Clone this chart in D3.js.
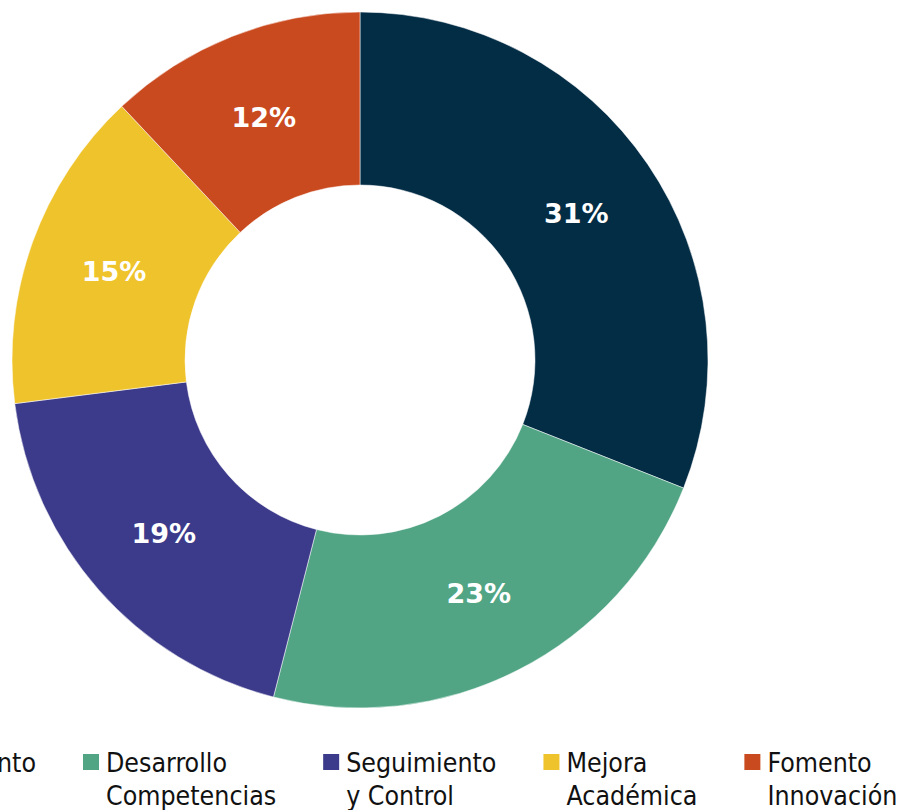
<!DOCTYPE html>
<html>
<head>
<meta charset="utf-8">
<script src="https://cdn.jsdelivr.net/npm/d3@7"></script>
<style>
  body { margin: 0; background: #fff; }
  svg { display: block; }
</style>
</head>
<body>
<div id="chart"></div>
<script>
// data
const categories = ['Fortalecimiento', 'Desarrollo Competencias', 'Seguimiento y Control', 'Mejora Académica', 'Fomento Innovación'];
const legendLines = [['Fortalecimiento'], ['Desarrollo', 'Competencias'], ['Seguimiento', 'y Control'], ['Mejora', 'Académica'], ['Fomento', 'Innovación']];
const values = [31, 23, 19, 15, 12];
const colors = ['#032c45', '#51a585', '#3c3a8a', '#efc32b', '#ca4a1f'];

const width = 907;
const height = 810;
const cx = 360, cy = 360;
const outerR = 348, innerR = 175;

const svg = d3.select('#chart').append('svg')
    .attr('width', width)
    .attr('height', height);

const color = d3.scaleOrdinal().domain(categories).range(colors);

const pie = d3.pie().sort(null).value(d => d.value);
const arc = d3.arc().innerRadius(innerR).outerRadius(outerR);

const data = categories.map((c, i) => ({ name: c, value: values[i] }));
const total = d3.sum(values);

const chart = svg.append('g').attr('transform', `translate(${cx},${cy})`);

const slices = chart.selectAll('g.slice').data(pie(data)).enter().append('g').attr('class', 'slice');

slices.append('path')
    .attr('d', arc)
    .attr('fill', d => color(d.data.name))
    .attr('stroke', '#ffffff')
    .attr('stroke-opacity', 0.5)
    .attr('stroke-width', 1);

slices.append('text')
    .attr('transform', d => `translate(${arc.centroid(d)})`)
    .attr('text-anchor', 'middle')
    .attr('dy', '0.36em')
    .attr('fill', '#ffffff')
    .style('font-family', 'DejaVu Sans, Verdana, sans-serif')
    .style('font-weight', 'bold')
    .style('font-size', '27px')
    .text(d => Math.round(d.data.value / total * 100) + '%');

// legend: items laid out by their widest line, second item anchored at x=83
const legend = svg.append('g').attr('class', 'legend');
const swatch = 16, textGap = 7, itemGap = 47;
const lineH = 33, firstBaseline = 772;

const items = legend.selectAll('g.item').data(data).enter().append('g').attr('class', 'item');

items.append('rect')
    .attr('width', swatch)
    .attr('height', swatch)
    .attr('y', firstBaseline - 18)
    .attr('fill', d => color(d.name));

items.each(function(d, i) {
    let t = d3.select(this).append('text')
        .attr('x', swatch + textGap)
        .attr('y', firstBaseline)
        .attr('fill', '#111')
        .style('font-family', 'DejaVu Sans Condensed, DejaVu Sans, Tahoma, sans-serif')
        .style('font-size', '26.5px');
    legendLines[i].forEach((line, j) => {
        t.append('tspan')
            .attr('x', swatch + textGap)
            .attr('y', firstBaseline + j * lineH)
            .text(line);
    });
});

let widths = [];
items.each(function() {
    let w = 0;
    d3.select(this).selectAll('tspan').each(function() {
        w = Math.max(w, this.getComputedTextLength());
    });
    widths.push(swatch + textGap + w);
});

let x = 83 - itemGap - widths[0];
items.attr('transform', (d, i) => {
    let pos = x;
    x += widths[i] + itemGap;
    return `translate(${pos},0)`;
});
</script>
</body>
</html>
